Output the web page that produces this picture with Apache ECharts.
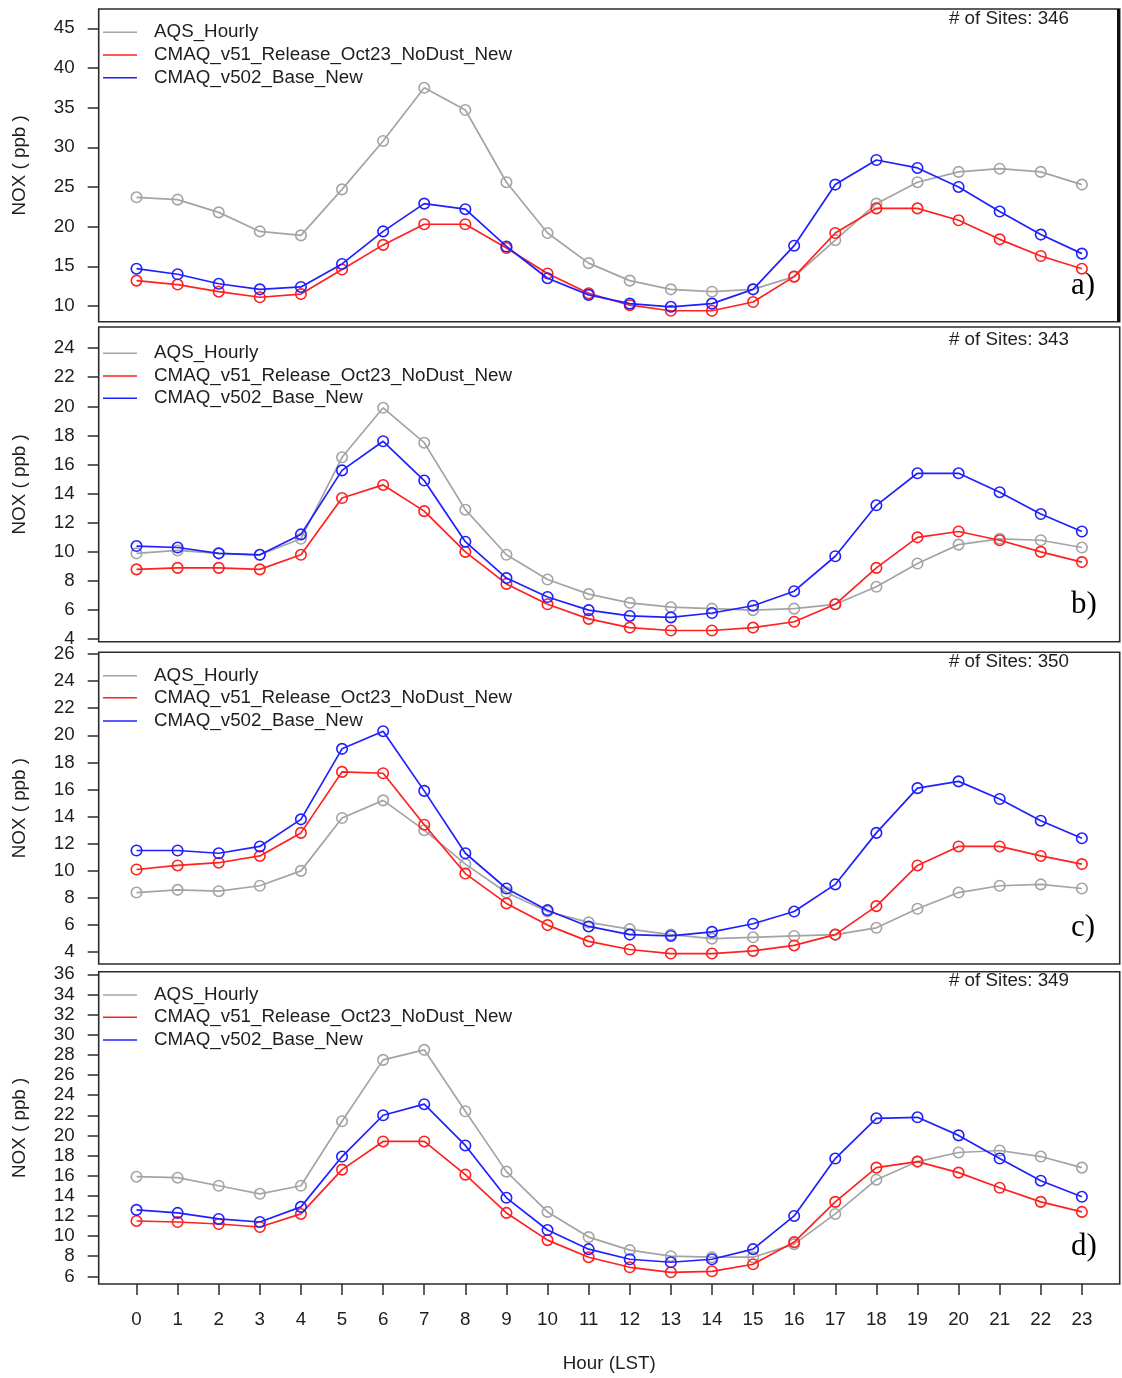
<!DOCTYPE html>
<html>
<head>
<meta charset="utf-8">
<title>NOX diurnal profiles</title>
<script src="https://cdn.jsdelivr.net/npm/echarts@6.0.0/dist/echarts.min.js"></script>
<style>
  html, body { margin: 0; padding: 0; background: #ffffff; }
  #chart { width: 1122px; height: 1378px; }
</style>
</head>
<body>
<div id="chart"></div>
<script>
// ---- data ----------------------------------------------------------------
const HOURS = [0, 1, 2, 3, 4, 5, 6, 7, 8, 9, 10, 11, 12, 13, 14, 15, 16, 17, 18, 19, 20, 21, 22, 23];
const SERIES_NAMES = ['AQS_Hourly', 'CMAQ_v51_Release_Oct23_NoDust_New', 'CMAQ_v502_Base_New'];
const SITE_COUNTS = [346, 343, 350, 349];
const PANEL_TAGS = ['a)', 'b)', 'c)', 'd)'];

// panel a
const AQS_A  = [23.7, 23.4, 21.8, 19.4, 18.9, 24.7, 30.8, 37.5, 34.7, 25.6, 19.2, 15.4, 13.2, 12.1, 11.8, 12.1, 13.7, 18.3, 22.9, 25.6, 26.9, 27.3, 26.9, 25.3];
const V51_A  = [13.2, 12.7, 11.8, 11.1, 11.5, 14.6, 17.7, 20.3, 20.3, 17.3, 14.1, 11.6, 10.1, 9.4, 9.4, 10.5, 13.7, 19.2, 22.3, 22.3, 20.8, 18.4, 16.3, 14.7];
const V502_A = [14.7, 14.0, 12.8, 12.1, 12.4, 15.3, 19.4, 22.9, 22.2, 17.5, 13.5, 11.4, 10.3, 9.9, 10.3, 12.1, 17.6, 25.3, 28.4, 27.4, 25.0, 21.9, 19.0, 16.6];
// panel b
const AQS_B  = [9.9, 10.1, 9.9, 9.8, 10.9, 16.5, 19.9, 17.5, 12.9, 9.8, 8.1, 7.1, 6.5, 6.2, 6.1, 6.0, 6.1, 6.4, 7.6, 9.2, 10.5, 10.9, 10.8, 10.3];
const V51_B  = [8.8, 8.9, 8.9, 8.8, 9.8, 13.7, 14.6, 12.8, 10.0, 7.8, 6.4, 5.4, 4.8, 4.6, 4.6, 4.8, 5.2, 6.4, 8.9, 11.0, 11.4, 10.8, 10.0, 9.3];
const V502_B = [10.4, 10.3, 9.9, 9.8, 11.2, 15.6, 17.6, 14.9, 10.7, 8.2, 6.9, 6.0, 5.6, 5.5, 5.8, 6.3, 7.3, 9.7, 13.2, 15.4, 15.4, 14.1, 12.6, 11.4];
// panel c
const AQS_C  = [8.4, 8.6, 8.5, 8.9, 10.0, 13.9, 15.2, 13.0, 10.5, 8.4, 7.0, 6.2, 5.7, 5.3, 5.0, 5.1, 5.2, 5.3, 5.8, 7.2, 8.4, 8.9, 9.0, 8.7];
const V51_C  = [10.1, 10.4, 10.6, 11.1, 12.8, 17.3, 17.2, 13.4, 9.8, 7.6, 6.0, 4.8, 4.2, 3.9, 3.9, 4.1, 4.5, 5.3, 7.4, 10.4, 11.8, 11.8, 11.1, 10.5];
const V502_C = [11.5, 11.5, 11.3, 11.8, 13.8, 19.0, 20.3, 15.9, 11.3, 8.7, 7.1, 5.9, 5.3, 5.2, 5.5, 6.1, 7.0, 9.0, 12.8, 16.1, 16.6, 15.3, 13.7, 12.4];
// panel d
const AQS_D  = [15.9, 15.8, 15.0, 14.2, 15.0, 21.4, 27.5, 28.5, 22.4, 16.4, 12.4, 9.9, 8.6, 8.0, 7.9, 7.9, 9.2, 12.2, 15.6, 17.4, 18.3, 18.5, 17.9, 16.8];
const V51_D  = [11.5, 11.4, 11.2, 10.9, 12.2, 16.6, 19.4, 19.4, 16.1, 12.3, 9.6, 7.9, 6.9, 6.4, 6.5, 7.2, 9.4, 13.4, 16.8, 17.4, 16.3, 14.8, 13.4, 12.4];
const V502_D = [12.6, 12.3, 11.7, 11.4, 12.9, 17.9, 22.0, 23.1, 19.0, 13.8, 10.6, 8.7, 7.7, 7.4, 7.7, 8.7, 12.0, 17.7, 21.7, 21.8, 20.0, 17.7, 15.5, 13.9];

// y tick labels per panel
const TICKS_A = [10, 15, 20, 25, 30, 35, 40, 45];
const TICKS_B = [4, 6, 8, 10, 12, 14, 16, 18, 20, 22, 24];
const TICKS_C = [4, 6, 8, 10, 12, 14, 16, 18, 20, 22, 24, 26];
const TICKS_D = [6, 8, 10, 12, 14, 16, 18, 20, 22, 24, 26, 28, 30, 32, 34, 36];

// ---- layout --------------------------------------------------------------
const FONT = '"Liberation Sans", Arial, Helvetica, sans-serif';
const SERIF = '"Liberation Serif", "Times New Roman", serif';
const TEXT_COLOR = '#1e1e1e';
const FRAME_COLOR = '#2b2b2b';
const COLORS = ['#a4a4a4', '#ff2020', '#2020ff'];
const FS = 18.8;

const GRID_LEFT = 98.7;
const GRID_WIDTH = 1021;
const X_RANGE = [-0.92, 23.92];
const PANEL_BOX = [[9, 321.7], [327, 641.7], [652.3, 964], [971.7, 1284]];
const Y_RANGE = [[8.02, 47.43], [3.83, 25.45], [3.13, 26.12], [5.24, 36.26]];
const LEGEND_ROWS = [[32.3, 55, 77.7], [353.3, 376, 398.3], [675.7, 697.7, 721], [995, 1017.3, 1040]];
const SITES_Y = [19, 340, 662.3, 981];
const TAG_Y = [286, 605, 928, 1246.7];

const PANEL_VALUES = [
  [AQS_A, V51_A, V502_A],
  [AQS_B, V51_B, V502_B],
  [AQS_C, V51_C, V502_C],
  [AQS_D, V51_D, V502_D]
];
const PANEL_TICKS = [TICKS_A, TICKS_B, TICKS_C, TICKS_D];

const grids = [], xAxes = [], yAxes = [], series = [], graphics = [];

PANEL_BOX.forEach(function (box, p) {
  const last = p === PANEL_BOX.length - 1;
  grids.push({
    left: GRID_LEFT, width: GRID_WIDTH,
    top: box[0], height: box[1] - box[0],
    show: true, borderColor: FRAME_COLOR, borderWidth: 1.6,
    backgroundColor: 'transparent'
  });
  xAxes.push({
    type: 'value', gridIndex: p, min: X_RANGE[0], max: X_RANGE[1],
    position: 'bottom',
    axisLine: { show: false, onZero: false },
    splitLine: { show: false },
    axisTick: { show: last, customValues: HOURS, length: 11, lineStyle: { color: FRAME_COLOR, width: 1.5 } },
    axisLabel: { show: last, customValues: HOURS, margin: 26, fontSize: FS, fontFamily: FONT, color: TEXT_COLOR },
    name: last ? 'Hour (LST)' : '',
    nameLocation: 'middle', nameGap: 70,
    nameTextStyle: { fontSize: FS, fontFamily: FONT, color: TEXT_COLOR }
  });
  yAxes.push({
    type: 'value', gridIndex: p, min: Y_RANGE[p][0], max: Y_RANGE[p][1],
    position: 'left',
    axisLine: { show: false, onZero: false },
    splitLine: { show: false },
    axisTick: { show: true, customValues: PANEL_TICKS[p], length: 11, lineStyle: { color: FRAME_COLOR, width: 1.5 } },
    axisLabel: { customValues: PANEL_TICKS[p], margin: 24, fontSize: FS, fontFamily: FONT, color: TEXT_COLOR },
    name: 'NOX ( ppb )', nameLocation: 'middle', nameGap: 69,
    nameTextStyle: { fontSize: FS, fontFamily: FONT, color: TEXT_COLOR }
  });

  PANEL_VALUES[p].forEach(function (vals, s) {
    series.push({
      type: 'line', name: SERIES_NAMES[s],
      xAxisIndex: p, yAxisIndex: p,
      data: HOURS.map(function (h, i) { return [h, vals[i]]; }),
      symbol: 'circle', symbolSize: 10.5, showAllSymbol: true,
      lineStyle: { color: COLORS[s], width: 1.7 },
      itemStyle: { color: 'rgba(0,0,0,0)', borderColor: COLORS[s], borderWidth: 1.6 },
      emphasis: { disabled: true },
      z: 2 + s
    });
  });

  // in-panel legend
  LEGEND_ROWS[p].forEach(function (y, s) {
    graphics.push({
      type: 'line', silent: true,
      shape: { x1: 103, y1: y, x2: 137, y2: y },
      style: { stroke: COLORS[s], lineWidth: 1.6 }
    });
    graphics.push({
      type: 'text', silent: true, x: 154, y: y,
      style: { text: SERIES_NAMES[s], fontSize: FS, fontFamily: FONT, fill: TEXT_COLOR, textVerticalAlign: 'middle' }
    });
  });

  // site count, top right
  graphics.push({
    type: 'text', silent: true, x: 1069, y: SITES_Y[p],
    style: { text: '# of Sites: ' + SITE_COUNTS[p], fontSize: FS, fontFamily: FONT, fill: TEXT_COLOR,
             textAlign: 'right', textVerticalAlign: 'middle' }
  });

  // panel tag
  graphics.push({
    type: 'text', silent: true, x: 1071, y: TAG_Y[p],
    style: { text: PANEL_TAGS[p], fontSize: 31, fontFamily: SERIF, fill: '#000000',
             textAlign: 'left', textVerticalAlign: 'middle' }
  });
});

// heavier right edge on the first panel frame
graphics.push({
  type: 'rect', silent: true,
  shape: { x: 1117, y: PANEL_BOX[0][0], width: 3, height: PANEL_BOX[0][1] - PANEL_BOX[0][0] },
  style: { fill: '#111111' }
});

const chart = echarts.init(document.getElementById('chart'), null, { renderer: 'canvas' });
chart.setOption({
  animation: false,
  backgroundColor: '#ffffff',
  grid: grids,
  xAxis: xAxes,
  yAxis: yAxes,
  series: series,
  graphic: { elements: graphics }
});
</script>
</body>
</html>
